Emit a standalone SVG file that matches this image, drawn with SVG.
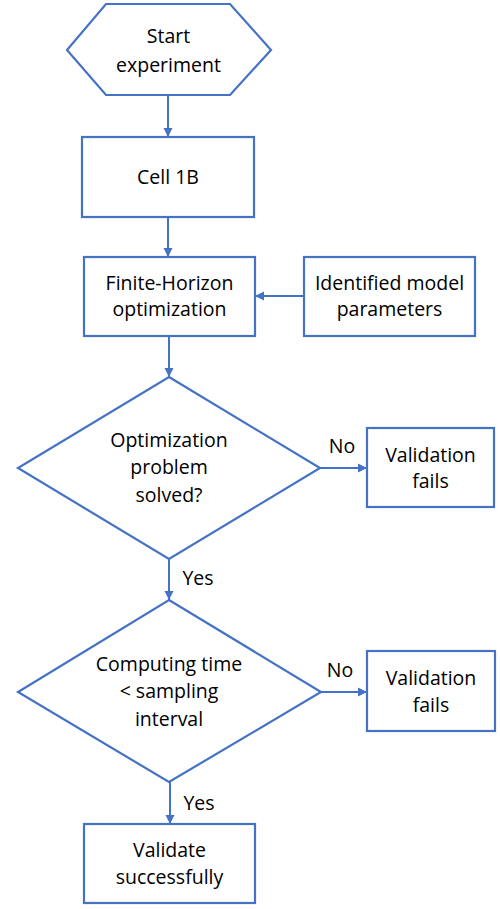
<svg xmlns="http://www.w3.org/2000/svg" width="500" height="909" viewBox="0 0 500 909">
<style>
.s{fill:#fff;stroke:#4472C4;stroke-width:2.2}
.t{font-family:"Open Sans","Liberation Sans",sans-serif;font-size:19.5px;fill:#000;text-anchor:middle}
.c{stroke:#4472C4;stroke-width:2;fill:none;marker-end:url(#ah)}
</style>
<defs>
<marker id="ah" markerUnits="userSpaceOnUse" markerWidth="10" markerHeight="10" refX="9" refY="5" orient="auto">
<path d="M0,0.5 L9,5 L0,9.5 Z" fill="#4472C4"/>
</marker>
</defs>
<g id="connectors">
<line class="c" x1="168" y1="95" x2="168" y2="137"/>
<line class="c" x1="168" y1="217" x2="168" y2="257"/>
<line class="c" x1="304" y1="296" x2="255" y2="296"/>
<line class="c" x1="169" y1="336" x2="169" y2="377"/>
<line class="c" x1="320" y1="468" x2="367" y2="468"/>
<line class="c" x1="169" y1="559" x2="169" y2="600"/>
<line class="c" x1="321" y1="692" x2="367" y2="692"/>
<line class="c" x1="170" y1="782" x2="170" y2="824"/>
<text class="t" x="342" y="453">No</text>
<text class="t" x="198" y="585">Yes</text>
<text class="t" x="340" y="677">No</text>
<text class="t" x="199" y="810">Yes</text>
</g>
<g id="start">
<polygon class="s" points="106,4 230,4 271,50 230,95 106,95 67,50"/>
<text class="t" x="168.5" y="43">Start</text>
<text class="t" x="168.5" y="72">experiment</text>
</g>
<g id="cell">
<rect class="s" x="82" y="137" width="172" height="80"/>
<text class="t" x="168" y="184">Cell 1B</text>
</g>
<g id="fho">
<rect class="s" x="84" y="257" width="171" height="79"/>
<text class="t" x="169.5" y="290">Finite-Horizon</text>
<text class="t" x="169.5" y="316">optimization</text>
</g>
<g id="params">
<rect class="s" x="304" y="257" width="171" height="79"/>
<text class="t" x="389.5" y="290">Identified model</text>
<text class="t" x="389.5" y="316">parameters</text>
</g>
<g id="decision1">
<polygon class="s" points="169,377 320,468 169,559 18,468"/>
<text class="t" x="169" y="447">Optimization</text>
<text class="t" x="169" y="474">problem</text>
<text class="t" x="169" y="502">solved?</text>
</g>
<g id="fail1">
<rect class="s" x="367" y="428" width="127" height="79"/>
<text class="t" x="430.5" y="462">Validation</text>
<text class="t" x="430.5" y="488">fails</text>
</g>
<g id="decision2">
<polygon class="s" points="169,600 321,692 169,782 18,692"/>
<text class="t" x="169" y="671">Computing time</text>
<text class="t" x="169" y="698">&lt; sampling</text>
<text class="t" x="169" y="726">interval</text>
</g>
<g id="fail2">
<rect class="s" x="367" y="651" width="128" height="80"/>
<text class="t" x="431" y="685">Validation</text>
<text class="t" x="431" y="712">fails</text>
</g>
<g id="success">
<rect class="s" x="84" y="824" width="171" height="79"/>
<text class="t" x="169.5" y="857">Validate</text>
<text class="t" x="169.5" y="884">successfully</text>
</g>
</svg>
